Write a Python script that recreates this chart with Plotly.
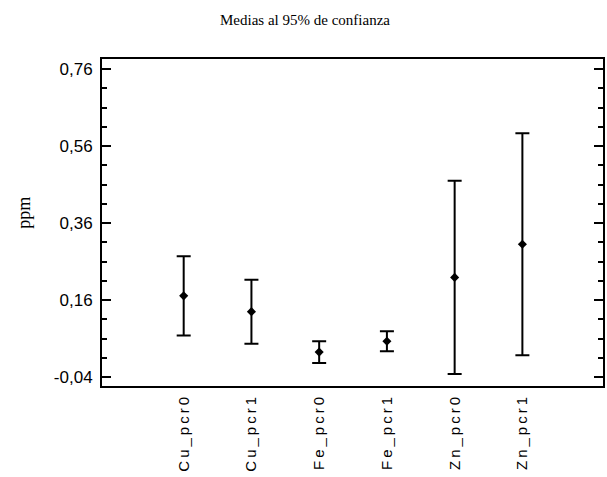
import plotly.graph_objects as go

# Means and 95% confidence half-widths per sample group (ppm)
groups = ["Cu_pcr0", "Cu_pcr1", "Fe_pcr0", "Fe_pcr1", "Zn_pcr0", "Zn_pcr1"]
means = [0.171, 0.130, 0.025, 0.053, 0.219, 0.305]
half_widths = [0.103, 0.083, 0.028, 0.026, 0.251, 0.288]

y_ticks = [-0.04, 0.16, 0.36, 0.56, 0.76]
y_tick_text = ["-0,04", "0,16", "0,36", "0,56", "0,76"]

positions = list(range(len(groups)))

fig = go.Figure()
fig.add_trace(go.Scatter(
    x=positions,
    y=means,
    mode="markers",
    marker=dict(symbol="diamond", size=7, color="black"),
    error_y=dict(type="data", array=half_widths, visible=True,
                 color="black", thickness=2, width=7),
    showlegend=False,
    hoverinfo="skip",
))

fig.update_layout(
    width=607,
    height=477,
    margin=dict(l=102, r=2, t=59, b=91),
    paper_bgcolor="white",
    plot_bgcolor="white",
    title=dict(
        text="Medias al 95% de confianza",
        font=dict(family="Liberation Serif", size=15, color="black"),
        x=305 / 607, xanchor="center", xref="container",
        y=1 - 20 / 477, yanchor="middle", yref="container",
    ),
    annotations=[dict(
        text="ppm", textangle=-90,
        font=dict(family="Liberation Serif", size=18, color="black"),
        xref="paper", yref="paper", x=0, y=0.53,
        xanchor="center", yanchor="middle", xshift=-78,
        showarrow=False,
    )],
)

fig.update_xaxes(
    range=[-1.206, 6.19],
    tickmode="array", tickvals=positions, ticktext=groups,
    tickangle=-90,
    ticks="",
    tickfont=dict(family="Liberation Sans", size=15, color="black"),
    showline=True, linecolor="black", linewidth=2, mirror=True,
    showgrid=False, zeroline=False,
)

fig.update_yaxes(
    range=[-0.063, 0.786],
    tickmode="array", tickvals=y_ticks, ticktext=y_tick_text,
    ticks="inside", ticklen=9, tickwidth=2, tickcolor="black",
    minor=dict(tick0=-0.04, dtick=0.05, ticks="inside", ticklen=5,
               tickwidth=1.5, tickcolor="black", showgrid=False),
    tickfont=dict(family="Liberation Sans", size=17, color="black"),
    ticklabelstandoff=4,
    showline=True, linecolor="black", linewidth=2, mirror="ticks",
    showgrid=False, zeroline=False,
)

# Widen the spacing of the rotated group labels
post = """
document.querySelectorAll('.xtick text').forEach(function(t){
  t.style.letterSpacing = '3px';
});
"""

fig.write_html("out.html", post_script=post)
